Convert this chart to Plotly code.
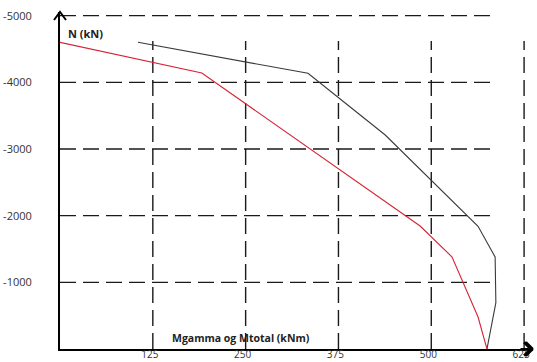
import plotly.graph_objects as go

# ---- data ----
black_m = [105, 334, 438, 563, 586, 587, 575]
black_n = [-4600, -4135, -3210, -1840, -1380, -695, 0]

red_m = [0, 191, 485, 528, 563, 575]
red_n = [-4600, -4140, -1845, -1380, -480, 0]

x_ticks = [125, 250, 375, 500, 625]
x_tick_labels = ["125", "250", "375", "500", "625"]
y_ticks = [-5000, -4000, -3000, -2000, -1000]
y_tick_labels = ["-5000", "-4000", "-3000", "-2000", "-1000"]

x_title = "Mgamma og Mtotal (kNm)"
y_title = "N (kN)"

# ---- styling / layout constants ----
W, H = 537, 362
ML, MR, MT, MB = 60, 4, 12, 13
PW, PH = W - ML - MR, H - MT - MB
X_MAX = 637
Y_MIN = -5055
GRID_X_END = 585
GRID_Y_END = -4620
GRID_STYLE = dict(color="#1a1a1a", width=1.4, dash="16px,7px")
FONT = "Open Sans"

fig = go.Figure()
fig.add_trace(go.Scatter(x=black_m, y=black_n, mode="lines",
                         line=dict(color="#3a3a3a", width=1.1),
                         hoverinfo="skip", showlegend=False))
fig.add_trace(go.Scatter(x=red_m, y=red_n, mode="lines",
                         line=dict(color="#d42435", width=1.1),
                         hoverinfo="skip", showlegend=False))

shapes = []
for yv in y_ticks:
    shapes.append(dict(type="line", xref="x", yref="y", x0=0, x1=GRID_X_END,
                       y0=yv, y1=yv, line=GRID_STYLE, layer="below"))
for xv in x_ticks:
    shapes.append(dict(type="line", xref="x", yref="y", x0=xv, x1=xv,
                       y0=0, y1=GRID_Y_END, line=GRID_STYLE, layer="below"))

# arrow heads on the axes (paper coordinates, sizes in px converted)
ARROW = dict(color="black", width=2)
ax, ay = 6 / PW, 8 / PH
shapes.append(dict(type="path", xref="paper", yref="paper",
                   path=f"M {-ax:.5f},{1 - ay:.5f} L 0,1 L {ax:.5f},{1 - ay:.5f}",
                   line=ARROW))
bx, by = 7 / PW, 7 / PH
for sgn in (1, -1):
    shapes.append(dict(type="line", xref="paper", yref="paper",
                       x0=1 - bx, y0=sgn * by, x1=1, y1=0, line=ARROW))

annotations = [
    dict(text="<b>" + y_title + "</b>", xref="x", yref="y", x=8, y=-4740,
         xanchor="left", yanchor="middle", showarrow=False,
         font=dict(family=FONT, size=11, color="#222")),
    dict(text="<b>" + x_title + "</b>", xref="x", yref="y", x=148, y=-165,
         xanchor="left", yanchor="middle", showarrow=False,
         font=dict(family=FONT, size=10.5, color="#222")),
    # x-axis arrow head (annotation arrow as a fallback chevron)
    dict(text="", xref="paper", yref="paper", x=1, y=0,
         showarrow=True, ax=-14, ay=0, arrowhead=4, arrowsize=1.3,
         arrowwidth=2, arrowcolor="black", standoff=0),
]

fig.update_layout(
    width=W, height=H,
    margin=dict(l=ML, r=MR, t=MT, b=MB),
    paper_bgcolor="white", plot_bgcolor="white",
    shapes=shapes, annotations=annotations,
    font=dict(family=FONT, size=11, color="#333"),
    xaxis=dict(range=[0, X_MAX], tickvals=x_ticks, ticktext=x_tick_labels,
               showgrid=False, zeroline=False, showline=True,
               linecolor="black", linewidth=2, ticks="", ticklen=0,
               automargin=False, ticklabelshift=-3, ticklabelstandoff=-5,
               tickfont=dict(family=FONT, size=10, color="#333")),
    yaxis=dict(range=[0, Y_MIN], tickvals=y_ticks, ticktext=y_tick_labels,
               showgrid=False, zeroline=False, showline=True,
               linecolor="black", linewidth=2, ticks="", ticklen=0,
               automargin=False, ticklabelstandoff=24,
               tickfont=dict(family=FONT, size=11, color="#333")),
)

fig.write_html(
    "out.html",
    config={"displayModeBar": False},
    post_script="document.body.style.margin='0';document.body.style.overflow='hidden';",
)
